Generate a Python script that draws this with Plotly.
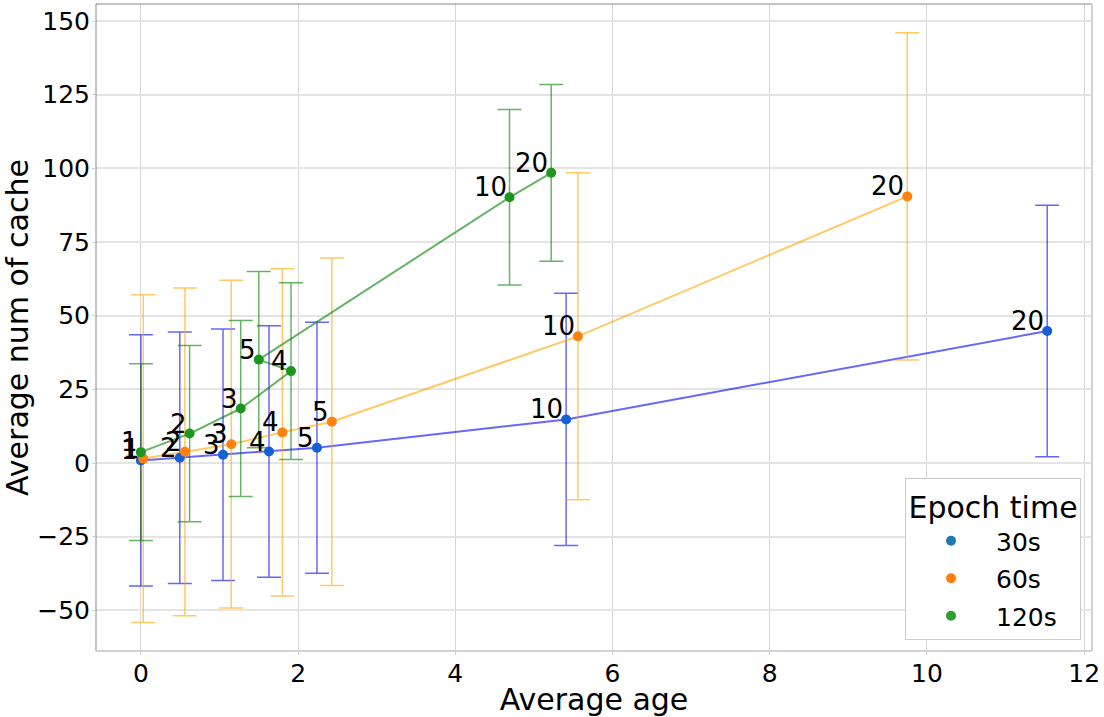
import plotly.graph_objects as go

labels = ["1", "2", "3", "4", "5", "10", "20"]

x_30 = [0.0, 0.495, 1.045, 1.63, 2.24, 5.41, 11.53]
y_30 = [0.9, 1.8, 2.8, 3.9, 5.2, 14.8, 44.8]
e_30 = [42.6, 42.7, 42.7, 42.7, 42.6, 42.8, 42.7]

x_60 = [0.03, 0.56, 1.15, 1.80, 2.43, 5.56, 9.75]
y_60 = [1.5, 3.8, 6.4, 10.4, 14.0, 43.0, 90.5]
e_60 = [55.6, 55.6, 55.6, 55.5, 55.6, 55.5, 55.5]

x_120 = [0.0, 0.62, 1.27, 1.91, 1.50, 4.69, 5.22]
y_120 = [3.7, 10.0, 18.5, 31.2, 35.1, 90.2, 98.5]
e_120 = [30.0, 29.9, 29.9, 30.0, 29.9, 29.8, 30.0]

series = [
    ("30s", x_30, y_30, e_30, "rgba(0,0,255,0.6)", "#1560d4", "#1f77b4"),
    ("60s", x_60, y_60, e_60, "rgba(255,165,0,0.6)", "#ff820e", "#ff7f0e"),
    ("120s", x_120, y_120, e_120, "rgba(0,128,0,0.6)", "#1c961c", "#2ca02c"),
]

FONT = "DejaVu Sans, Liberation Sans, sans-serif"
fig = go.Figure()

for name, xs, ys, es, lcol, mcol, lgcol in series:
    fig.add_trace(go.Scatter(
        x=xs, y=ys, mode="lines", showlegend=False,
        line=dict(color=lcol, width=2),
        error_y=dict(type="data", array=es, visible=True, color=lcol,
                     thickness=1.5, width=12),
        hoverinfo="skip",
    ))
annotations = []
for name, xs, ys, es, lcol, mcol, lgcol in series:
    fig.add_trace(go.Scatter(
        x=xs, y=ys, mode="markers", showlegend=False,
        marker=dict(color=mcol, size=10),
    ))
    for xv, yv, lb in zip(xs, ys, labels):
        annotations.append(dict(
            x=xv, y=yv, xref="x", yref="y", text=lb, showarrow=False,
            xanchor="right", yanchor="bottom", xshift=-1, yshift=-7,
            font=dict(size=26, color="black", family=FONT),
        ))
for name, xs, ys, es, lcol, mcol, lgcol in series:
    fig.add_trace(go.Scatter(
        x=[None], y=[None], mode="markers", name=name, legendgroup=name,
        marker=dict(color=lgcol, size=10),
    ))

fig.update_layout(
    width=1104, height=717,
    margin=dict(l=96, r=10, t=4, b=66),
    paper_bgcolor="white", plot_bgcolor="white",
    font=dict(family=FONT, size=25, color="black"),
    annotations=annotations,
    xaxis=dict(
        range=[-0.571, 12.10], tickmode="linear", tick0=0, dtick=2,
        showgrid=True, gridcolor="#d6d6d6", gridwidth=1,
        zeroline=False, showline=False,
        ticks="outside", ticklen=3, tickcolor="#cccccc",
        ticklabelstandoff=-3,
        tickfont=dict(size=25),
        title=dict(text="Average age", font=dict(size=30), standoff=2),
    ),
    yaxis=dict(
        range=[-63.8, 155.8], tickmode="linear", tick0=0, dtick=25,
        showgrid=True, gridcolor="#e4e4e4", gridwidth=2,
        zeroline=False, showline=False,
        ticks="outside", ticklen=3, tickcolor="#cccccc",
        ticklabelstandoff=-3,
        tickfont=dict(size=25),
        title=dict(text="Average num of cache", font=dict(size=30), standoff=10),
    ),
    legend=dict(
        x=0.989, y=0.017, xanchor="right", yanchor="bottom",
        bgcolor="white", bordercolor="#cccccc", borderwidth=1,
        title=dict(text="Epoch time", font=dict(size=30), side="top center"),
        font=dict(size=25), itemwidth=80,
        traceorder="grouped", tracegroupgap=2,
    ),
    shapes=[
        dict(type="line", xref="paper", yref="paper", x0=0, x1=0, y0=0, y1=1,
             line=dict(color="#888888", width=1)),
        dict(type="line", xref="paper", yref="paper", x0=0, x1=1, y0=1, y1=1,
             line=dict(color="#888888", width=1)),
        dict(type="line", xref="paper", yref="paper", x0=0, x1=1, y0=0, y1=0,
             line=dict(color="#d3d3d3", width=2)),
        dict(type="line", xref="paper", yref="paper", x0=1, x1=1, y0=0, y1=1,
             line=dict(color="#d3d3d3", width=2)),
    ],
)

fig.write_html("out.html")
